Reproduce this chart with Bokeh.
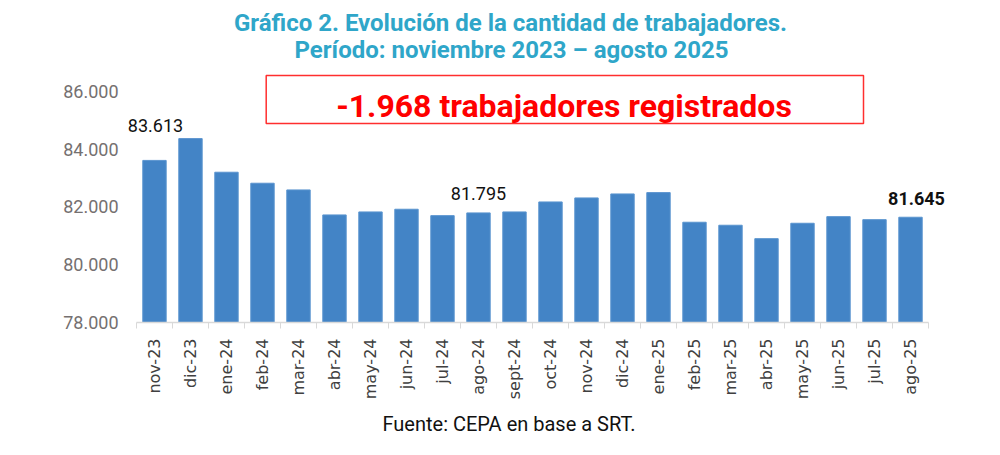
from bokeh.plotting import figure
from bokeh.models import Range1d, FixedTicker, Label, BoxAnnotation, ColumnDataSource, Title
from bokeh.embed import file_html
from bokeh.resources import INLINE
from math import pi

# ---- data ----
meses = ["nov-23", "dic-23", "ene-24", "feb-24", "mar-24", "abr-24", "may-24",
         "jun-24", "jul-24", "ago-24", "sept-24", "oct-24", "nov-24", "dic-24",
         "ene-25", "feb-25", "mar-25", "abr-25", "may-25", "jun-25", "jul-25",
         "ago-25"]
trabajadores = [83613, 84368, 83204, 82823, 82591, 81725, 81829,
                81922, 81701, 81795, 81829, 82175, 82314, 82452,
                82498, 81472, 81368, 80904, 81437, 81666, 81562,
                81645]
y_ticks = [78000, 80000, 82000, 84000, 86000]
y_tick_labels = ["78.000", "80.000", "82.000", "84.000", "86.000"]
destacados = [0, 9, 21]          # indices with value labels
destacado_negrita = [21]
titulo_1 = "Gráfico 2. Evolución de la cantidad de trabajadores."
titulo_2 = "Período: noviembre 2023 – agosto 2025"
recuadro = "-1.968 trabajadores registrados"
fuente = "Fuente: CEPA en base a SRT."

BAR = "#4384C6"
TITLE_C = "#2FA6C9"
FONT = "Roboto"

def fmt(v):
    return f"{v:,}".replace(",", ".")

n = len(meses)
xs = list(range(n))
src = ColumnDataSource(dict(x=xs, top=trabajadores, mes=meses))

p = figure(width=984, height=445, output_backend="svg", toolbar_location=None,
           title=None,
           x_range=Range1d(-0.944, n - 0.5 + 0.611), y_range=Range1d(78000, 89151),
           min_border_left=120, min_border_right=34, min_border_top=0,
           min_border_bottom=123)
p.outline_line_color = None
p.background_fill_color = "white"
p.border_fill_color = "white"
p.xgrid.visible = False
p.ygrid.visible = False

p.vbar(x="x", top="top", bottom=78000, width=0.65, source=src,
       fill_color=BAR, line_color="#5A94CF", line_width=1)

# x axis
xa = p.xaxis[0]
xa.bounds = (-0.5, n - 0.5)
xa.ticker = FixedTicker(ticks=xs, minor_ticks=[i - 0.5 for i in range(n + 1)])
xa.major_label_overrides = {i: m for i, m in enumerate(meses)}
xa.major_label_orientation = pi / 2
xa.major_tick_line_color = None
xa.major_tick_out = 0
xa.major_tick_in = 0
xa.minor_tick_line_color = "#D9D9D9"
xa.minor_tick_out = 6
xa.minor_tick_in = 0
xa.axis_line_color = "#D9D9D9"
xa.axis_line_width = 1.5
xa.major_label_text_font = "DejaVu Sans"
xa.major_label_text_font_size = "16px"
xa.major_label_text_color = "#404040"
xa.major_label_standoff = 10

# y axis
ya = p.yaxis[0]
ya.ticker = FixedTicker(ticks=y_ticks)
ya.major_label_overrides = {t: l for t, l in zip(y_ticks, y_tick_labels)}
ya.axis_line_color = None
ya.major_tick_line_color = None
ya.minor_tick_line_color = None
ya.major_tick_out = 0
ya.major_tick_in = 0
ya.major_label_standoff = 2
ya.major_label_text_font = FONT
ya.major_label_text_font_size = "18px"
ya.major_label_text_color = "#757070"

# value labels
offsets = {0: (1, 35), 9: (0, 19), 21: (6, 19)}
for i in destacados:
    dx, dy = offsets[i]
    p.add_layout(Label(x=i, y=trabajadores[i], text=fmt(trabajadores[i]),
                       x_offset=dx, y_offset=dy,
                       text_font=FONT, text_font_size="18px",
                       text_font_style="bold" if i in destacado_negrita else "normal",
                       text_color="#111111", text_align="center",
                       text_baseline="alphabetic"))

# highlighted box
p.add_layout(BoxAnnotation(left=145.7, right=743, top=247, bottom=199,
                           left_units="screen", right_units="screen",
                           top_units="screen", bottom_units="screen",
                           fill_color=None, fill_alpha=0,
                           line_color="#FF2E2E", line_alpha=1, line_width=1.5))
p.add_layout(Label(x=443.5, y=217, x_units="screen", y_units="screen",
                   text=recuadro, text_font=FONT, text_font_size="32px",
                   text_font_style="bold", text_color="#FF0000",
                   text_align="center", text_baseline="alphabetic"))

# titles
p.add_layout(Label(x=390, y=300, x_units="screen", y_units="screen",
                   text=titulo_1, text_font=FONT, text_font_size="24px",
                   text_font_style="bold", text_color=TITLE_C,
                   text_align="center", text_baseline="alphabetic"))
p.add_layout(Label(x=391, y=273, x_units="screen", y_units="screen",
                   text=titulo_2, text_font=FONT, text_font_size="24px",
                   text_font_style="bold", text_color=TITLE_C,
                   text_align="center", text_baseline="alphabetic"))

# source
p.add_layout(Title(text=fuente, align="left", offset=262,
                   text_font=FONT, text_font_size="20px", text_font_style="normal",
                   text_color="#111111", standoff=14), "below")

open("out.html", "w").write(file_html(p, INLINE))
